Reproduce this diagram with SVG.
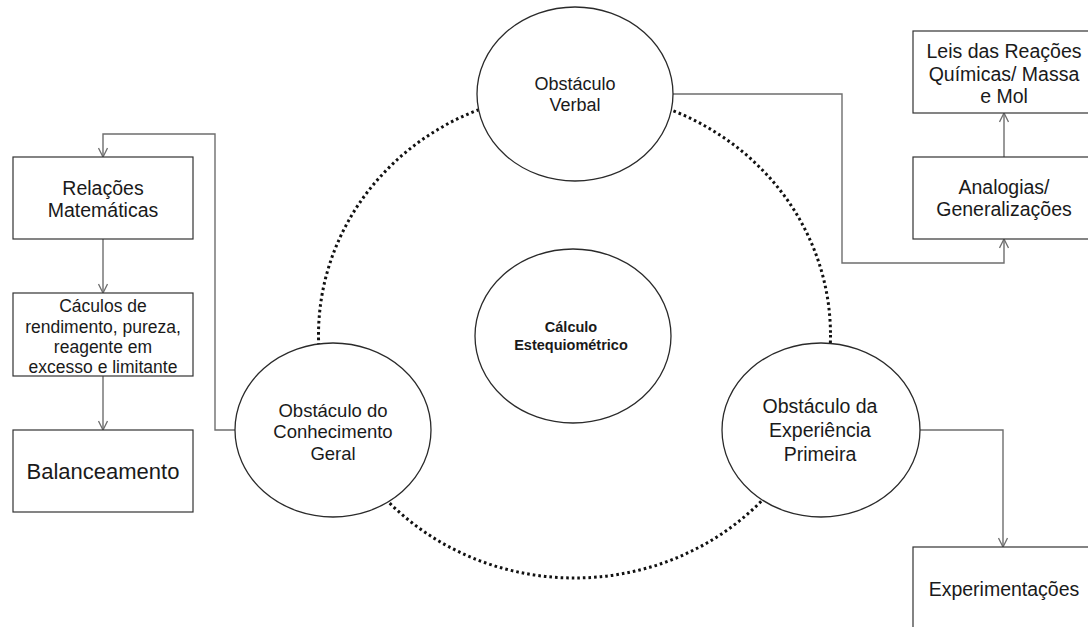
<svg xmlns="http://www.w3.org/2000/svg" width="1088" height="627" viewBox="0 0 1088 627">
<style>
.box{fill:#fff;stroke:#333;stroke-width:1.2}
.ell{fill:#fff;stroke:#2a2a2a;stroke-width:1.3}
.con{fill:none;stroke:#6e6e6e;stroke-width:1.4}
.dot{fill:none;stroke:#111;stroke-width:3;stroke-dasharray:2.6 3}
text{font-family:"Liberation Sans",Arial,sans-serif;fill:#1a1a1a;text-anchor:middle}
.t19{font-size:19.5px}
.t18{font-size:18.5px}
.t17{font-size:17.5px}
.t22{font-size:22px}
.tv{font-size:18px}
.tb{font-size:14.5px;font-weight:bold}
</style>
<defs>
<marker id="arr" viewBox="0 0 10 10" refX="10" refY="5" markerWidth="10" markerHeight="10" markerUnits="userSpaceOnUse" orient="auto">
<path d="M1,0.5 L10,5 L1,9.5" fill="none" stroke="#6e6e6e" stroke-width="1.3"/>
</marker>
</defs>
<rect width="1088" height="627" fill="#fff"/>
<g id="ciclo">
<ellipse class="dot" cx="574.5" cy="335" rx="256" ry="243"/>
</g>
<g id="connectors">
<path class="con" d="M673,94 H842 V263 H1004 V239" marker-end="url(#arr)"/>
<path class="con" d="M1004,157 V113" marker-end="url(#arr)"/>
<path class="con" d="M920,430 H1003 V547" marker-end="url(#arr)"/>
<path class="con" d="M235,430 H215 V134 H103 V157" marker-end="url(#arr)"/>
<path class="con" d="M103,239 V293" marker-end="url(#arr)"/>
<path class="con" d="M103,376 V430" marker-end="url(#arr)"/>
</g>
<g id="verbal">
<ellipse class="ell" cx="575" cy="94" rx="98" ry="87"/>
<text class="tv" x="575" y="89.5">Obstáculo</text>
<text class="tv" x="575" y="111">Verbal</text>
</g>
<g id="calculo">
<ellipse class="ell" cx="573" cy="336" rx="98" ry="87"/>
<text class="tb" x="571" y="332">Cálculo</text>
<text class="tb" x="571" y="350">Estequiométrico</text>
</g>
<g id="conhecimento">
<ellipse class="ell" cx="333" cy="430" rx="98" ry="87"/>
<text class="t18" x="333" y="417">Obstáculo do</text>
<text class="t18" x="333" y="438">Conhecimento</text>
<text class="t18" x="333" y="460">Geral</text>
</g>
<g id="experiencia">
<ellipse class="ell" cx="821" cy="430" rx="99" ry="87"/>
<text class="t19" x="820" y="413">Obstáculo da</text>
<text class="t19" x="820" y="437">Experiência</text>
<text class="t19" x="820" y="461">Primeira</text>
</g>
<g id="relacoes">
<rect class="box" x="13" y="157" width="180" height="82"/>
<text class="t19" x="103" y="195">Relações</text>
<text class="t19" x="103" y="217">Matemáticas</text>
</g>
<g id="caculos">
<rect class="box" x="13" y="293" width="180" height="83"/>
<text class="t17" x="103" y="312">Cáculos de</text>
<text class="t17" x="103" y="333">rendimento, pureza,</text>
<text class="t17" x="103" y="353">reagente em</text>
<text class="t17" x="103" y="373">excesso e limitante</text>
</g>
<g id="balanceamento">
<rect class="box" x="13" y="430" width="180" height="82"/>
<text class="t22" x="103" y="479">Balanceamento</text>
</g>
<g id="leis">
<rect class="box" x="913" y="31" width="182" height="82"/>
<text class="t19" x="1004" y="58">Leis das Reações</text>
<text class="t19" x="1004" y="81">Químicas/ Massa</text>
<text class="t19" x="1004" y="103">e Mol</text>
</g>
<g id="analogias">
<rect class="box" x="913" y="157" width="182" height="82"/>
<text class="t19" x="1004" y="194">Analogias/</text>
<text class="t19" x="1004" y="216">Generalizações</text>
</g>
<g id="experimentacoes">
<rect class="box" x="913" y="547" width="182" height="90"/>
<text class="t19" x="1004" y="596">Experimentações</text>
</g>
</svg>
